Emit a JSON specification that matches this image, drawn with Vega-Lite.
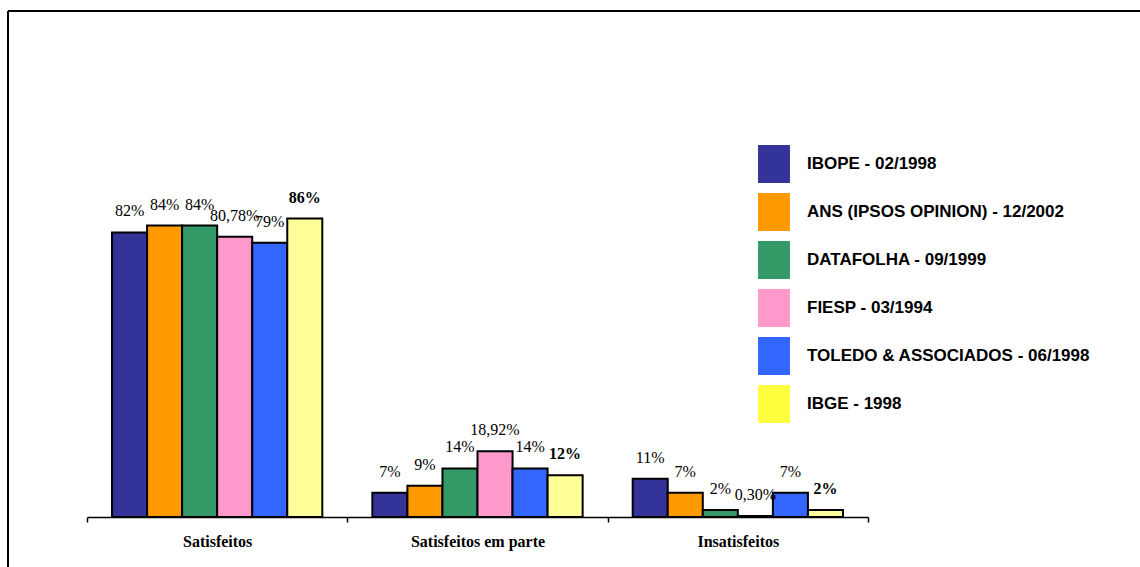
{
  "$schema": "https://vega.github.io/schema/vega-lite/v6.json",
  "autosize": {"type": "none"},
  "width": 1132,
  "height": 556,
  "padding": {"left": 8, "top": 11, "right": 0, "bottom": 0},
  "background": "white",
  "config": {
    "view": {"stroke": "black", "strokeWidth": 2, "strokeDash": [1132, 1688, 556, 0]},
    "font": "Liberation Serif"
  },
  "data": {
    "values": [
      {"categoria": "Satisfeitos", "pesquisa": "IBOPE - 02/1998", "valor": 82, "rotulo": "82%"},
      {"categoria": "Satisfeitos", "pesquisa": "ANS (IPSOS OPINION) - 12/2002", "valor": 84, "rotulo": "84%"},
      {"categoria": "Satisfeitos", "pesquisa": "DATAFOLHA - 09/1999", "valor": 84, "rotulo": "84%"},
      {"categoria": "Satisfeitos", "pesquisa": "FIESP - 03/1994", "valor": 80.78, "rotulo": "80,78%"},
      {"categoria": "Satisfeitos", "pesquisa": "TOLEDO & ASSOCIADOS - 06/1998", "valor": 79, "rotulo": "79%"},
      {"categoria": "Satisfeitos", "pesquisa": "IBGE - 1998", "valor": 86, "rotulo": "86%"},
      {"categoria": "Satisfeitos em parte", "pesquisa": "IBOPE - 02/1998", "valor": 7, "rotulo": "7%"},
      {"categoria": "Satisfeitos em parte", "pesquisa": "ANS (IPSOS OPINION) - 12/2002", "valor": 9, "rotulo": "9%"},
      {"categoria": "Satisfeitos em parte", "pesquisa": "DATAFOLHA - 09/1999", "valor": 14, "rotulo": "14%"},
      {"categoria": "Satisfeitos em parte", "pesquisa": "FIESP - 03/1994", "valor": 18.92, "rotulo": "18,92%"},
      {"categoria": "Satisfeitos em parte", "pesquisa": "TOLEDO & ASSOCIADOS - 06/1998", "valor": 14, "rotulo": "14%"},
      {"categoria": "Satisfeitos em parte", "pesquisa": "IBGE - 1998", "valor": 12, "rotulo": "12%"},
      {"categoria": "Insatisfeitos", "pesquisa": "IBOPE - 02/1998", "valor": 11, "rotulo": "11%"},
      {"categoria": "Insatisfeitos", "pesquisa": "ANS (IPSOS OPINION) - 12/2002", "valor": 7, "rotulo": "7%"},
      {"categoria": "Insatisfeitos", "pesquisa": "DATAFOLHA - 09/1999", "valor": 2, "rotulo": "2%"},
      {"categoria": "Insatisfeitos", "pesquisa": "FIESP - 03/1994", "valor": 0.3, "rotulo": "0,30%"},
      {"categoria": "Insatisfeitos", "pesquisa": "TOLEDO & ASSOCIADOS - 06/1998", "valor": 7, "rotulo": "7%"},
      {"categoria": "Insatisfeitos", "pesquisa": "IBGE - 1998", "valor": 2, "rotulo": "2%"}
    ]
  },
  "encoding": {
    "x": {
      "field": "categoria",
      "type": "nominal",
      "sort": ["Satisfeitos", "Satisfeitos em parte", "Insatisfeitos"],
      "scale": {"range": [79, 860], "paddingInner": 0, "paddingOuter": 0},
      "axis": {
        "title": null,
        "orient": "bottom",
        "offset": -50,
        "labelAngle": 0,
        "labelFont": "Liberation Serif",
        "labelFontWeight": "bold",
        "labelFontSize": 16,
        "labelColor": "black",
        "labelPadding": 11,
        "domainColor": "black",
        "domainWidth": 1.5,
        "tickColor": "black",
        "tickWidth": 1.5,
        "tickSize": 5,
        "tickBand": "extent",
        "grid": false
      }
    },
    "xOffset": {
      "field": "pesquisa",
      "type": "nominal",
      "sort": ["IBOPE - 02/1998", "ANS (IPSOS OPINION) - 12/2002", "DATAFOLHA - 09/1999", "FIESP - 03/1994", "TOLEDO & ASSOCIADOS - 06/1998", "IBGE - 1998"],
      "scale": {"paddingInner": 0, "paddingOuter": 0.714}
    },
    "y": {
      "field": "valor",
      "type": "quantitative",
      "scale": {"domain": [0, 100], "range": [506, 159]},
      "axis": null
    }
  },
  "layer": [
    {
      "mark": {"type": "bar", "stroke": "black", "strokeWidth": 2},
      "encoding": {
        "color": {
          "field": "pesquisa",
          "type": "nominal",
          "scale": {
            "domain": ["IBOPE - 02/1998", "ANS (IPSOS OPINION) - 12/2002", "DATAFOLHA - 09/1999", "FIESP - 03/1994", "TOLEDO & ASSOCIADOS - 06/1998", "IBGE - 1998"],
            "range": ["#333399", "#FF9900", "#339966", "#FF99CC", "#3366FF", "#FFFF99"]
          },
          "legend": null
        }
      }
    },
    {
      "mark": {"type": "bar", "opacity": 0},
      "encoding": {
        "color": {
          "field": "pesquisa",
          "type": "nominal",
          "scale": {
            "domain": ["IBOPE - 02/1998", "ANS (IPSOS OPINION) - 12/2002", "DATAFOLHA - 09/1999", "FIESP - 03/1994", "TOLEDO & ASSOCIADOS - 06/1998", "IBGE - 1998"],
            "range": ["#333399", "#FF9900", "#339966", "#FF99CC", "#3366FF", "#FFFF40"]
          },
          "legend": {
            "title": null,
            "orient": "none",
            "legendX": 747,
            "legendY": 134,
            "padding": 0,
            "symbolType": "M-0.84,-1H0.84V1H-0.84Z",
            "symbolSize": 1444,
            "symbolStrokeWidth": 0,
            "symbolOpacity": 1,
            "rowPadding": 10,
            "labelOffset": 14,
            "labelFont": "Liberation Sans",
            "labelFontWeight": "bold",
            "labelFontSize": 17,
            "labelColor": "black",
            "labelLimit": 400
          }
        }
      }
    },
    {
      "transform": [{"filter": "datum.pesquisa !== 'IBGE - 1998'"}],
      "mark": {"type": "text", "baseline": "alphabetic", "dy": -16, "font": "Liberation Serif", "fontSize": 16, "color": "black"},
      "encoding": {"text": {"field": "rotulo"}}
    },
    {
      "transform": [{"filter": "datum.pesquisa === 'IBGE - 1998'"}],
      "mark": {"type": "text", "baseline": "alphabetic", "dy": -16, "font": "Liberation Serif", "fontSize": 16, "fontWeight": "bold", "color": "black"},
      "encoding": {"text": {"field": "rotulo"}}
    }
  ],
  "resolve": {"scale": {"color": "independent"}}
}
